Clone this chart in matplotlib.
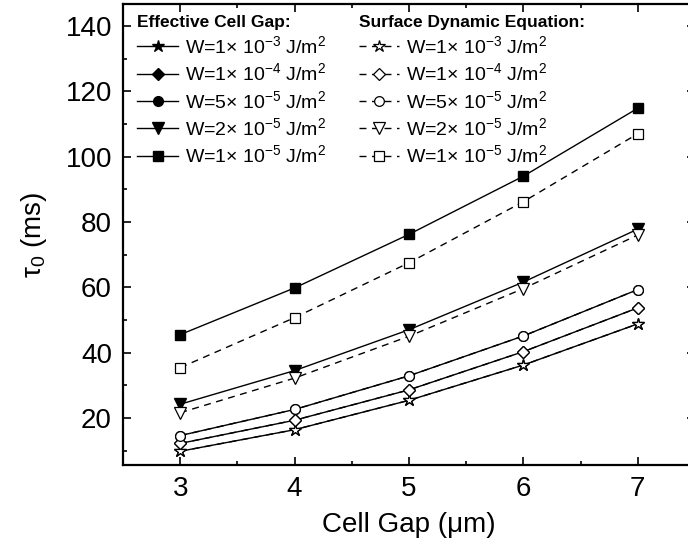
import matplotlib
matplotlib.use("Agg")
import matplotlib.pyplot as plt
from matplotlib.ticker import MultipleLocator

plt.rcParams["font.family"] = ["Liberation Sans", "DejaVu Sans"]
plt.rcParams["mathtext.fontset"] = "custom"
plt.rcParams["mathtext.rm"] = "Liberation Sans"
plt.rcParams["mathtext.it"] = "Liberation Sans:italic"

# ---------------------------------------------------------------------------
# Data
# ---------------------------------------------------------------------------
cell_gap = [3, 4, 5, 6, 7]

labels = [
    r"W=1$\times$ 10$^{-3}$ J/m$^2$",
    r"W=1$\times$ 10$^{-4}$ J/m$^2$",
    r"W=5$\times$ 10$^{-5}$ J/m$^2$",
    r"W=2$\times$ 10$^{-5}$ J/m$^2$",
    r"W=1$\times$ 10$^{-5}$ J/m$^2$",
]
markers = ["*", "D", "o", "v", "s"]
marker_sizes = [9, 6.5, 7, 8, 6.5]

# effective cell gap model (solid, filled markers)
eff_w1e3 = [9.8, 16.4, 25.4, 36.2, 48.8]
eff_w1e4 = [12.2, 19.3, 28.6, 40.3, 53.7]
eff_w5e5 = [14.6, 22.6, 32.9, 45.1, 59.3]
eff_w2e5 = [24.2, 34.5, 47.0, 61.6, 77.8]
eff_w1e5 = [45.5, 59.8, 76.2, 94.0, 114.8]

# surface dynamic equation (dashed, open markers)
sde_w1e3 = [9.8, 16.4, 25.4, 36.2, 48.8]
sde_w1e4 = [12.2, 19.3, 28.6, 40.3, 53.7]
sde_w5e5 = [14.6, 22.6, 32.9, 45.1, 59.3]
sde_w2e5 = [21.6, 32.2, 45.0, 59.6, 76.0]
sde_w1e5 = [35.4, 50.7, 67.5, 86.2, 107.0]

eff_series = [eff_w1e3, eff_w1e4, eff_w5e5, eff_w2e5, eff_w1e5]
sde_series = [sde_w1e3, sde_w1e4, sde_w5e5, sde_w2e5, sde_w1e5]

# ---------------------------------------------------------------------------
# Plot
# ---------------------------------------------------------------------------
fig = plt.figure(figsize=(6.88, 5.48), dpi=100)
ax = fig.add_axes([123 / 688, 1 - 465 / 548, 572 / 688, 461 / 548])

eff_handles = []
for ys, m, ms, lab in zip(eff_series, markers, marker_sizes, labels):
    h, = ax.plot(cell_gap, ys, color="black", lw=1.0, marker=m, ms=ms,
                 mfc="black", mec="black", label=lab, zorder=2)
    eff_handles.append(h)

sde_handles = []
for ys, m, ms, lab in zip(sde_series, markers, marker_sizes, labels):
    h, = ax.plot(cell_gap, ys, color="black", lw=1.0, ls=(0, (5, 4)),
                 marker=m, ms=ms, mfc="white", mec="black", mew=0.9,
                 label=lab, zorder=3)
    sde_handles.append(h)

ax.set_xlim(2.5, 7.5)
ax.set_ylim(5.6, 146.7)
ax.xaxis.set_major_locator(MultipleLocator(1))
ax.xaxis.set_minor_locator(MultipleLocator(0.5))
ax.yaxis.set_minor_locator(MultipleLocator(10))
ax.set_yticks([20, 40, 60, 80, 100, 120, 140])

ax.tick_params(which="both", direction="in", top=True, right=True,
               width=1.2, labelsize=20, pad=8)
ax.tick_params(which="major", length=6)
ax.tick_params(which="minor", length=3)
for sp in ax.spines.values():
    sp.set_linewidth(1.6)

ax.set_xlabel("Cell Gap (μm)", fontsize=20, labelpad=7)
ax.set_ylabel("τ$_0$ (ms)", fontsize=20, labelpad=12)

leg_kw = dict(frameon=False, fontsize=14, handlelength=2.1,
              handletextpad=0.35, labelspacing=0.28, borderaxespad=0.0,
              title_fontproperties={"weight": "bold", "size": 12.5},
              alignment="left", borderpad=0.2)
leg1 = ax.legend(handles=eff_handles, title="Effective Cell Gap:",
                 loc="upper left", bbox_to_anchor=(0.018, 0.985), **leg_kw)
ax.add_artist(leg1)
ax.legend(handles=sde_handles, title="Surface Dynamic Equation:",
          loc="upper left", bbox_to_anchor=(0.405, 0.985), **leg_kw)

fig.savefig("out.png", dpi=100)
